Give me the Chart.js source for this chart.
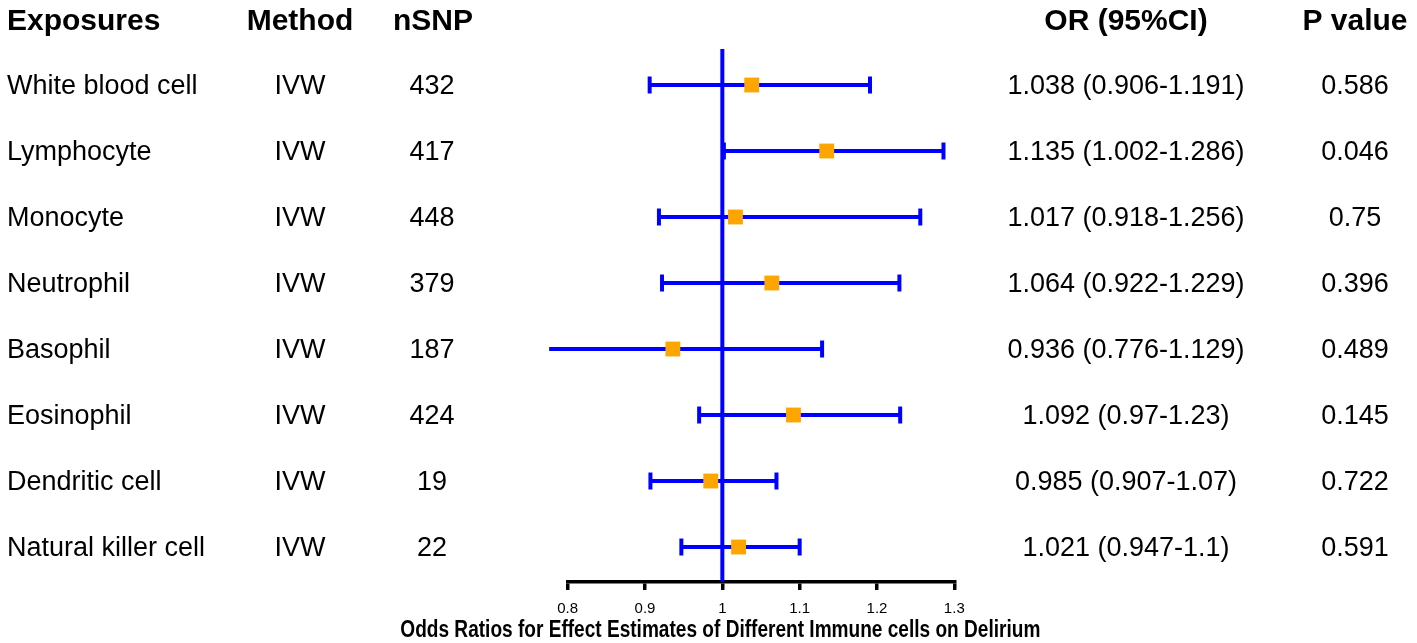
<!DOCTYPE html>
<html>
<head>
<meta charset="utf-8">
<script src="https://cdn.jsdelivr.net/npm/chart.js@4"></script>
<style>
  html, body { margin: 0; padding: 0; background: #fff; }
  canvas { display: block; }
</style>
</head>
<body>
<canvas id="forest" width="1417" height="643"></canvas>
<script>
const exposures = ['White blood cell', 'Lymphocyte', 'Monocyte', 'Neutrophil', 'Basophil', 'Eosinophil', 'Dendritic cell', 'Natural killer cell'];
const methods = ['IVW', 'IVW', 'IVW', 'IVW', 'IVW', 'IVW', 'IVW', 'IVW'];
const nSnp = [432, 417, 448, 379, 187, 424, 19, 22];
const orValues = [1.038, 1.135, 1.017, 1.064, 0.936, 1.092, 0.985, 1.021];
const ciLower = [0.906, 1.002, 0.918, 0.922, 0.776, 0.97, 0.907, 0.947];
const ciUpper = [1.191, 1.286, 1.256, 1.229, 1.129, 1.23, 1.07, 1.1];
const pValues = ['0.586', '0.046', '0.75', '0.396', '0.489', '0.145', '0.722', '0.591'];
const xTicks = [0.8, 0.9, 1, 1.1, 1.2, 1.3];
const headers = ['Exposures', 'Method', 'nSNP', 'OR (95%CI)', 'P value'];
const xTitle = 'Odds Ratios for Effect Estimates of Different Immune cells on Delirium';

const BLUE = '#0000ff';
const ORANGE = '#ffa500';
const FONT = '"Liberation Sans", Arial, sans-serif';

// text columns, drawn at the y of each row, plus the x axis title
const tableText = {
  id: 'tableText',
  afterDraw(chart) {
    const ctx = chart.ctx;
    const y = chart.scales.y;
    const x = chart.scales.x;
    ctx.save();
    ctx.fillStyle = '#000';
    ctx.textBaseline = 'middle';

    const hy = y.getPixelForValue(0) + 3;
    ctx.font = 'bold 30px ' + FONT;
    ctx.textAlign = 'left';
    ctx.fillText(headers[0], 7, hy);
    ctx.textAlign = 'center';
    ctx.fillText(headers[1], 300, hy);
    ctx.fillText(headers[2], 433, hy);
    ctx.fillText(headers[3], 1126, hy);
    ctx.fillText(headers[4], 1355, hy);

    ctx.font = '27px ' + FONT;
    exposures.forEach((name, i) => {
      const ry = y.getPixelForValue(i + 1) + 1.5;
      ctx.textAlign = 'left';
      ctx.fillText(name, 7, ry);
      ctx.textAlign = 'center';
      ctx.fillText(methods[i], 300, ry);
      ctx.fillText(String(nSnp[i]), 432, ry);
      ctx.fillText(orValues[i] + ' (' + ciLower[i] + '-' + ciUpper[i] + ')', 1126, ry);
      ctx.fillText(pValues[i], 1355, ry);
    });

    // axis title: wider than the axis and condensed in the original
    ctx.font = 'bold 23px ' + FONT;
    ctx.textAlign = 'center';
    const squeeze = 640 / ctx.measureText(xTitle).width;
    ctx.translate(x.getPixelForValue(1) - 2, x.bottom - 12);
    ctx.scale(squeeze, 1);
    ctx.fillText(xTitle, 0, 0);
    ctx.restore();
  }
};

const ciLines = exposures.map((name, i) => ({
  type: 'line',
  label: name,
  data: [{ x: ciLower[i], y: i + 1 }, { x: ciUpper[i], y: i + 1 }],
  borderColor: BLUE,
  borderWidth: 4,
  pointRadius: 0,
  clip: false,
  order: 3
}));

const caps = {
  type: 'scatter',
  label: 'caps',
  data: exposures.flatMap((name, i) => [{ x: ciLower[i], y: i + 1 }, { x: ciUpper[i], y: i + 1 }]),
  pointStyle: 'line',
  rotation: 90,
  pointRadius: 8.5,
  borderColor: BLUE,
  borderWidth: 4,
  clip: false,
  order: 2
};

const squares = {
  type: 'scatter',
  label: 'OR',
  data: orValues.map((v, i) => ({ x: v, y: i + 1 })),
  pointStyle: 'rect',
  pointRadius: 10.5,
  backgroundColor: ORANGE,
  borderColor: ORANGE,
  borderWidth: 0,
  clip: false,
  order: 1
};

const refLine = {
  type: 'line',
  label: 'ref',
  data: [{ x: 1, y: 0.4545 }, { x: 1, y: 8.53 }],
  borderColor: BLUE,
  borderWidth: 4,
  pointRadius: 0,
  clip: false,
  order: 4
};

new Chart(document.getElementById('forest'), {
  type: 'scatter',
  data: { datasets: [squares, caps, ...ciLines, refLine] },
  options: {
    responsive: false,
    animation: false,
    devicePixelRatio: 1,
    layout: { padding: { left: 567.7, right: 462.7, top: 49, bottom: 0 } },
    plugins: { legend: { display: false }, tooltip: { enabled: false } },
    scales: {
      x: {
        type: 'linear',
        min: 0.8,
        max: 1.3,
        afterBuildTicks(axis) { axis.ticks = xTicks.map(v => ({ value: v })); },
        afterFit(axis) { axis.height = 61; },
        border: { display: true, color: '#000', width: 3.5 },
        grid: { display: true, drawOnChartArea: false, drawTicks: true, tickLength: 8, color: '#000', lineWidth: 3.5 },
        ticks: { color: '#000', padding: 10, font: { family: FONT, size: 15 }, callback: v => String(v) },
        title: { display: false }
      },
      y: {
        type: 'linear',
        reverse: true,
        min: 0.4545,
        max: 8.53,
        display: false
      }
    }
  },
  plugins: [tableText]
});
</script>
</body>
</html>
